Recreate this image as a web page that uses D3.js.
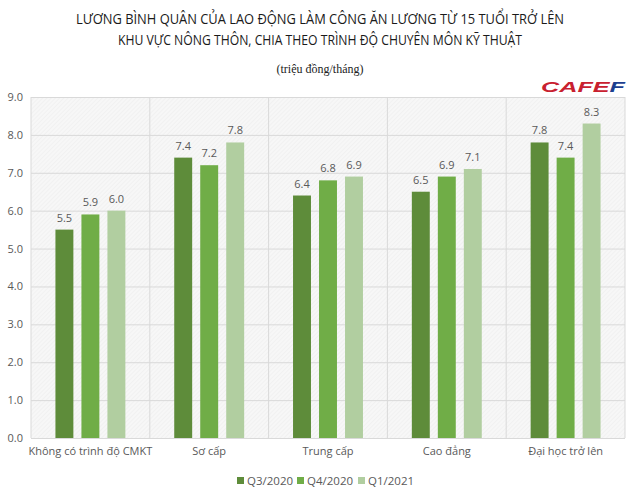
<!DOCTYPE html>
<html><head><meta charset="utf-8">
<script src="https://cdn.jsdelivr.net/npm/d3@7"></script>
<style>body{margin:0;background:#fff}svg{display:block}</style>
</head><body>
<svg id="c" width="640" height="498"></svg>
<script>
const categories = ["Không có trình độ CMKT","Sơ cấp","Trung cấp","Cao đẳng","Đại học trở lên"];
const seriesNames = ["Q3/2020","Q4/2020","Q1/2021"];
const q3_2020 = [5.5,7.4,6.4,6.5,7.8];
const q4_2020 = [5.9,7.2,6.8,6.9,7.4];
const q1_2021 = [6.0,7.8,6.9,7.1,8.3];
const yTicks = [0,1,2,3,4,5,6,7,8,9];
const colors = ["#5e8c3a","#70ad47","#b1cea0"];
const seriesVals = [q3_2020,q4_2020,q1_2021];

const svg = d3.select("#c");
const m = {l:31,r:625,t:97,b:438};
const font = "'Open Sans', 'Noto Sans', sans-serif";

const defs = svg.append("defs");
const pat = defs.append("pattern").attr("id","hatch").attr("width",3).attr("height",3)
  .attr("patternUnits","userSpaceOnUse").attr("patternTransform","rotate(45)");
pat.append("rect").attr("width",3).attr("height",3).attr("fill","#f7f7f7");
pat.append("line").attr("x1",0).attr("y1",0).attr("x2",0).attr("y2",3).attr("stroke","#ececec").attr("stroke-width",1);

const title = ["LƯƠNG BÌNH QUÂN CỦA LAO ĐỘNG LÀM CÔNG ĂN LƯƠNG TỪ 15 TUỔI TRỞ LÊN",
               "KHU VỰC NÔNG THÔN, CHIA THEO TRÌNH ĐỘ CHUYÊN MÔN KỸ THUẬT"];
svg.selectAll("text.title").data(title).enter().append("text")
  .attr("x",320).attr("y",(d,i)=>24+i*21).attr("text-anchor","middle")
  .attr("font-family",font).attr("font-size",14.5).attr("font-weight",500)
  .attr("fill","#1a1a1a").attr("textLength",(d,i)=>i?404:488).attr("lengthAdjust","spacingAndGlyphs").text(d=>d);
svg.append("text").attr("x",320).attr("y",73).attr("text-anchor","middle")
  .attr("font-family","'Liberation Serif', serif").attr("font-size",12).attr("fill","#222")
  .text("(triệu đồng/tháng)");
const logo = svg.append("text").attr("x",625).attr("y",92).attr("text-anchor","end")
  .attr("font-family","'Liberation Sans', sans-serif").attr("font-weight","bold").attr("font-style","italic")
  .attr("font-size",15).attr("textLength",84).attr("lengthAdjust","spacingAndGlyphs");
logo.append("tspan").attr("fill","#c8202f").text("CAFE");
logo.append("tspan").attr("fill","#1d3f8f").text("F");

const x = d3.scaleBand().domain(categories).range([m.l,m.r]);
const y = d3.scaleLinear().domain([0,9]).range([m.b,m.t]);
const xs = d3.scaleBand().domain(seriesNames).range([0,x.bandwidth()]).paddingInner(0.31).paddingOuter(0.94);

svg.append("rect").attr("x",m.l).attr("y",m.t).attr("width",m.r-m.l).attr("height",m.b-m.t).attr("fill","url(#hatch)");

const ya = svg.append("g").attr("transform",`translate(${m.l},0)`)
  .call(d3.axisLeft(y).tickValues(yTicks).tickFormat(d3.format(".1f")).tickSize(-(m.r-m.l)).tickPadding(8));
ya.select(".domain").remove();
ya.selectAll("line").attr("stroke","#d9d9d9");
ya.selectAll("text").attr("font-family",font).attr("font-size",11).attr("fill","#595959");

const xa = svg.append("g").attr("transform",`translate(0,${m.b})`)
  .call(d3.axisBottom(x).tickSize(-(m.b-m.t)).tickPadding(9));
xa.select(".domain").remove();
xa.selectAll("line").attr("stroke","#d9d9d9").attr("transform",`translate(${x.bandwidth()/2},0)`);
xa.selectAll("text").attr("font-family",font).attr("font-size",11).attr("fill","#595959");
svg.append("line").attr("x1",m.l).attr("x2",m.l).attr("y1",m.t).attr("y2",m.b).attr("stroke","#d9d9d9");

seriesVals.forEach((vals,si)=>{
  const g = svg.append("g");
  g.selectAll("rect").data(vals).enter().append("rect")
    .attr("x",(d,i)=>x(categories[i])+xs(seriesNames[si]))
    .attr("width",xs.bandwidth())
    .attr("y",d=>y(d)).attr("height",d=>m.b-y(d)).attr("fill",colors[si]);
  g.selectAll("text").data(vals).enter().append("text")
    .attr("x",(d,i)=>x(categories[i])+xs(seriesNames[si])+xs.bandwidth()/2)
    .attr("y",d=>y(d)-8).attr("text-anchor","middle")
    .attr("font-family",font).attr("font-size",11).attr("fill","#595959")
    .text(d=>d.toFixed(1));
});

const lx = [237,297,358];
seriesNames.forEach((n,i)=>{
  svg.append("rect").attr("x",lx[i]).attr("y",477).attr("width",7).attr("height",7).attr("fill",colors[i]);
  svg.append("text").attr("x",lx[i]+10).attr("y",485).attr("font-family",font).attr("font-size",11.5)
    .attr("fill","#595959").text(n);
});
</script>
</body></html>
